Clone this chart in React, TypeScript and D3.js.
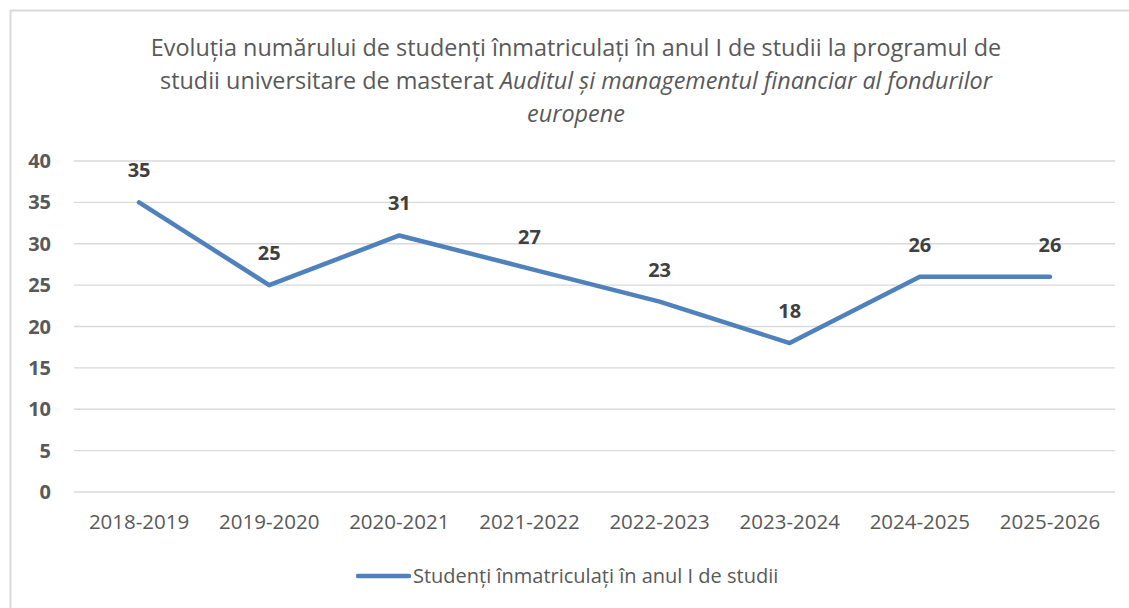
import React, { useEffect, useRef } from 'react';
import * as d3 from 'd3';

const years = ['2018-2019', '2019-2020', '2020-2021', '2021-2022', '2022-2023', '2023-2024', '2024-2025', '2025-2026'];
const students = [35, 25, 31, 27, 23, 18, 26, 26];
const yTicks = [0, 5, 10, 15, 20, 25, 30, 35, 40];
const seriesName = 'Studenți înmatriculați în anul I de studii';

const FONT = '"Open Sans", sans-serif';

const App: React.FC = () => {
    const svgRef = useRef<SVGSVGElement>(null);

    useEffect(() => {
        if (!svgRef.current) return;
        const svg = d3.select(svgRef.current);
        svg.selectAll('*').remove();

        const left = 74, right = 1115, top = 161, bottom = 492;

        // frame
        svg.append('rect')
            .attr('x', 10.5).attr('y', 10.5)
            .attr('width', 1125).attr('height', 610)
            .attr('fill', 'white')
            .attr('stroke', '#d9d9d9')
            .attr('stroke-width', 2);

        // title
        const title = svg.append('text')
            .attr('text-anchor', 'middle')
            .attr('font-family', FONT)
            .attr('font-size', 23.4)
            .attr('fill', '#595959');
        title.append('tspan').attr('x', 576).attr('y', 56)
            .text('Evoluția numărului de studenți înmatriculați în anul I de studii la programul de');
        const l2 = title.append('tspan').attr('x', 576).attr('y', 89);
        l2.append('tspan').text('studii universitare de masterat ');
        l2.append('tspan').attr('font-style', 'italic').text('Auditul și managementul financiar al fondurilor');
        title.append('tspan').attr('x', 576).attr('y', 122).attr('font-style', 'italic').text('europene');

        const x = d3.scaleBand<string>().domain(years).range([left, right]);
        const y = d3.scaleLinear().domain([0, 40]).range([bottom, top]);

        // gridlines
        svg.append('g')
            .selectAll('line')
            .data(yTicks)
            .enter()
            .append('line')
            .attr('x1', left).attr('x2', right)
            .attr('y1', d => y(d)).attr('y2', d => y(d))
            .attr('stroke', '#d9d9d9')
            .attr('stroke-width', 1.3);

        // y axis labels
        svg.append('g')
            .selectAll('text')
            .data(yTicks)
            .enter()
            .append('text')
            .attr('x', 51)
            .attr('y', d => y(d))
            .attr('dy', '0.35em')
            .attr('text-anchor', 'end')
            .attr('font-family', FONT)
            .attr('font-size', 20)
            .attr('font-weight', 'bold')
            .attr('fill', '#595959')
            .text(d => d);

        // x axis labels
        svg.append('g')
            .selectAll('text')
            .data(years)
            .enter()
            .append('text')
            .attr('x', d => (x(d) || 0) + x.bandwidth() / 2)
            .attr('y', 522)
            .attr('dy', '0.35em')
            .attr('text-anchor', 'middle')
            .attr('font-family', FONT)
            .attr('font-size', 20.5)
            .attr('fill', '#595959')
            .text(d => d);

        const cx = (d: string) => (x(d) || 0) + x.bandwidth() / 2;

        // line
        const line = d3.line<number>()
            .x((_, i) => cx(years[i]))
            .y(d => y(d));

        svg.append('path')
            .datum(students)
            .attr('fill', 'none')
            .attr('stroke', '#4f81bd')
            .attr('stroke-width', 4.5)
            .attr('stroke-linecap', 'round')
            .attr('stroke-linejoin', 'round')
            .attr('d', line);

        // data labels
        svg.append('g')
            .selectAll('text')
            .data(students)
            .enter()
            .append('text')
            .attr('x', (_, i) => cx(years[i]))
            .attr('y', d => y(d) - 32)
            .attr('dy', '0.35em')
            .attr('text-anchor', 'middle')
            .attr('font-family', FONT)
            .attr('font-size', 20)
            .attr('font-weight', 'bold')
            .attr('fill', '#404040')
            .text(d => d);

        // legend
        const lg = svg.append('g');
        lg.append('line')
            .attr('x1', 358).attr('x2', 409)
            .attr('y1', 576).attr('y2', 576)
            .attr('stroke', '#4f81bd')
            .attr('stroke-width', 4.5)
            .attr('stroke-linecap', 'round');
        lg.append('text')
            .attr('x', 413).attr('y', 576)
            .attr('dy', '0.35em')
            .attr('font-family', FONT)
            .attr('font-size', 20)
            .attr('fill', '#595959')
            .text(seriesName);
    }, []);

    return (
        <svg ref={svgRef} width={1129} height={608}
            style={{ position: 'absolute', left: 0, top: 0, display: 'block' }} />
    );
};

export default App;
